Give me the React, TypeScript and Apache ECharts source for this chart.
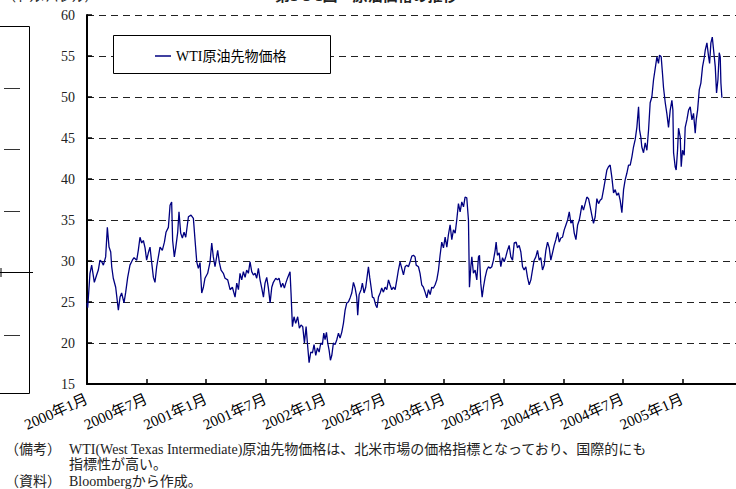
import React, { useEffect, useRef } from "react";
import * as echarts from "echarts";

// WTI crude oil futures price (USD/bbl). x = months elapsed since January 2000.
const wti2000: [number, number][] = [
  [0.0, 24.9], [0.07, 24.3], [0.3, 28.5], [0.47, 29.5], [0.74, 27.4], [0.97, 28.3], [1.14, 28.9], [1.31, 30.1],
  [1.48, 29.9], [1.65, 29.5], [1.88, 30.5], [2.05, 34.1], [2.22, 31.7], [2.39, 31.1], [2.49, 29.3], [2.65, 27.9],
  [2.89, 26.8], [3.16, 24.0], [3.33, 25.6], [3.49, 26.1], [3.73, 24.9], [3.9, 26.2], [4.1, 28.0], [4.33, 29.5],
  [4.57, 30.1], [4.74, 30.4], [5.01, 30.1], [5.17, 31.3], [5.34, 32.9], [5.51, 32.2], [5.68, 32.5], [5.85, 31.6],
  [6.01, 30.1], [6.18, 31.0], [6.35, 31.7], [6.52, 29.8], [6.69, 28.0], [6.85, 27.4], [7.02, 29.3], [7.19, 30.5],
  [7.36, 31.7], [7.59, 31.3], [7.8, 32.3], [7.96, 33.5], [8.2, 34.1], [8.37, 36.8], [8.53, 37.2], [8.63, 32.5],
  [8.8, 30.5], [8.94, 31.6], [9.14, 33.5], [9.27, 36.0], [9.44, 33.4], [9.61, 32.8], [9.78, 33.5], [9.95, 32.9],
  [10.22, 35.4], [10.48, 35.6], [10.72, 35.2], [10.89, 32.5], [11.06, 29.9], [11.22, 29.1], [11.39, 29.8],
  [11.56, 26.1], [11.73, 26.8], [11.89, 27.9],
];

const wti2001: [number, number][] = [
  [12.16, 28.5], [12.4, 29.9], [12.57, 32.2], [12.73, 30.5], [12.9, 29.3], [13.17, 31.3], [13.34, 29.8],
  [13.51, 28.9], [13.74, 28.5], [13.91, 27.9], [14.18, 27.7], [14.42, 26.5], [14.65, 26.8], [14.92, 25.6],
  [15.09, 27.3], [15.26, 26.5], [15.42, 28.5], [15.59, 27.7], [15.76, 28.7], [15.93, 28.0], [16.09, 28.9],
  [16.26, 28.5], [16.43, 29.9], [16.6, 28.7], [16.77, 28.3], [16.94, 28.5], [17.1, 27.9], [17.27, 29.1],
  [17.44, 27.7], [17.61, 26.7], [17.78, 25.6], [17.94, 27.3], [18.11, 28.0], [18.28, 26.7], [18.45, 24.9],
  [18.62, 26.8], [18.78, 27.4], [19.02, 27.9], [19.19, 27.7], [19.35, 27.9], [19.56, 26.8], [19.72, 27.3],
  [19.89, 26.7], [20.03, 27.3], [20.23, 28.0], [20.46, 28.7], [20.56, 26.1], [20.7, 22.0], [20.86, 23.2],
  [21.03, 22.4], [21.23, 23.2], [21.4, 21.8], [21.57, 22.2], [21.74, 22.0], [21.91, 20.0], [22.08, 22.0],
  [22.21, 20.0], [22.38, 17.6], [22.55, 18.9], [22.72, 18.8], [22.88, 19.8], [23.05, 18.5], [23.22, 19.4],
  [23.39, 18.9], [23.56, 20.0], [23.72, 19.8], [23.86, 21.2],
];

const wti2002: [number, number][] = [
  [23.99, 20.4], [24.13, 21.3], [24.26, 20.0], [24.4, 19.1], [24.53, 17.9], [24.67, 18.5], [24.83, 20.0],
  [25.0, 19.8], [25.17, 20.4], [25.34, 21.2], [25.5, 20.6], [25.67, 21.3], [25.84, 22.4], [26.01, 24.0],
  [26.18, 24.9], [26.34, 25.0], [26.51, 25.5], [26.68, 26.1], [26.85, 27.4], [27.02, 26.7], [27.18, 25.6],
  [27.28, 23.4], [27.42, 25.9], [27.62, 26.5], [27.75, 27.3], [27.92, 26.1], [28.09, 26.8], [28.22, 28.0],
  [28.36, 29.3], [28.49, 28.0], [28.63, 26.8], [28.76, 25.6], [28.9, 25.5], [29.1, 24.6], [29.23, 24.3],
  [29.37, 25.6], [29.54, 26.1], [29.7, 26.7], [29.87, 26.2], [30.04, 26.8], [30.21, 26.5], [30.38, 27.7],
  [30.54, 27.1], [30.71, 26.5], [30.88, 26.8], [31.05, 26.5], [31.22, 27.7], [31.38, 28.9], [31.55, 29.9],
  [31.72, 29.1], [31.89, 28.3], [32.06, 29.3], [32.22, 29.5], [32.39, 29.3], [32.56, 29.9], [32.73, 30.6],
  [32.9, 30.7], [33.06, 30.5], [33.17, 29.5], [33.4, 29.3], [33.56, 28.5], [33.73, 27.1], [33.9, 26.8],
  [34.07, 26.2], [34.24, 25.5], [34.41, 26.5], [34.58, 25.9], [34.74, 26.8], [34.91, 26.7], [35.08, 27.1],
  [35.25, 27.7], [35.42, 28.9], [35.58, 30.7], [35.75, 32.3], [35.92, 31.6],
];

const wti2003: [number, number][] = [
  [36.09, 32.9], [36.26, 31.7], [36.42, 33.2], [36.59, 34.4], [36.76, 32.6], [36.93, 33.8], [37.1, 33.4],
  [37.26, 35.0], [37.43, 37.0], [37.6, 36.0], [37.77, 37.2], [37.94, 36.6], [38.1, 37.8], [38.27, 37.7],
  [38.44, 35.0], [38.54, 26.8], [38.68, 29.3], [38.78, 30.5], [38.94, 28.5], [39.11, 28.9], [39.28, 27.7],
  [39.45, 30.5], [39.55, 30.7], [39.68, 27.3], [39.82, 25.6], [39.95, 26.8], [40.12, 28.0], [40.29, 28.9],
  [40.46, 29.3], [40.62, 29.1], [40.79, 29.3], [40.96, 30.1], [41.13, 31.3], [41.23, 32.3], [41.36, 30.7],
  [41.53, 31.0], [41.7, 29.3], [41.87, 30.4], [42.04, 29.9], [42.2, 30.5], [42.37, 31.3], [42.54, 31.9],
  [42.71, 30.5], [42.88, 30.1], [43.05, 32.2], [43.25, 32.3], [43.38, 31.6], [43.55, 31.9], [43.72, 31.1],
  [43.89, 29.3], [44.05, 28.9], [44.22, 29.3], [44.39, 28.0], [44.56, 27.1], [44.73, 27.7], [44.89, 28.9],
  [45.06, 30.1], [45.23, 30.5], [45.4, 31.3], [45.57, 30.1], [45.73, 30.4], [45.9, 28.9], [46.07, 29.5],
  [46.24, 31.3], [46.41, 32.3], [46.58, 31.6], [46.74, 30.1], [46.91, 31.0], [47.08, 31.9], [47.25, 32.6],
  [47.42, 33.5], [47.59, 32.3], [47.75, 32.8], [47.92, 32.9],
];

const wti2004: [number, number][] = [
  [48.09, 33.8], [48.26, 34.4], [48.43, 35.0], [48.6, 36.0], [48.76, 34.6], [48.93, 35.0], [49.1, 33.4],
  [49.27, 32.6], [49.44, 34.4], [49.61, 35.0], [49.7, 35.6], [49.87, 36.8], [50.03, 36.2], [50.2, 37.0],
  [50.37, 37.8], [50.54, 37.6], [50.71, 36.6], [50.87, 35.6], [51.04, 34.6], [51.21, 35.4], [51.38, 37.6],
  [51.55, 37.0], [51.71, 37.4], [51.88, 37.6], [52.05, 38.7], [52.22, 39.9], [52.39, 41.1], [52.55, 41.5],
  [52.72, 41.7], [52.89, 40.2], [53.06, 38.3], [53.23, 38.7], [53.39, 38.0], [53.56, 38.3], [53.73, 37.4],
  [53.9, 35.9], [54.07, 38.7], [54.23, 39.9], [54.4, 40.7], [54.57, 41.7], [54.74, 41.7], [54.91, 42.7],
  [55.07, 43.9], [55.24, 44.8], [55.41, 46.3], [55.58, 48.8], [55.68, 46.0], [55.81, 45.1], [55.91, 43.9],
  [56.08, 43.2], [56.25, 44.4], [56.42, 43.5], [56.59, 46.0], [56.75, 49.3], [56.92, 50.0], [57.09, 52.1],
  [57.26, 53.5], [57.43, 54.9], [57.59, 54.1], [57.69, 55.1], [57.86, 54.9], [57.99, 52.9], [58.1, 51.1],
  [58.27, 49.3], [58.43, 48.0], [58.6, 46.3], [58.77, 48.4], [58.94, 49.6], [59.04, 48.4], [59.11, 43.2],
  [59.27, 41.5], [59.37, 41.1], [59.51, 43.5], [59.61, 46.2], [59.78, 45.1], [59.88, 41.5],
];

const wti2005: [number, number][] = [
  [60.01, 43.5], [60.18, 42.9], [60.28, 46.3], [60.45, 47.2], [60.62, 48.4], [60.79, 48.8], [60.96, 47.2],
  [61.12, 48.0], [61.29, 45.6], [61.39, 47.2], [61.53, 48.4], [61.7, 50.9], [61.86, 51.7], [62.03, 53.7],
  [62.2, 54.8], [62.3, 55.7], [62.47, 56.6], [62.64, 54.9], [62.74, 54.1], [62.87, 56.6], [63.01, 57.3],
  [63.17, 55.4], [63.31, 53.7], [63.44, 50.5], [63.58, 52.1], [63.71, 55.4], [63.81, 54.9], [63.88, 51.7],
  [63.98, 49.9],
];

const xTickLabels = [
  "2000年1月", "2000年7月", "2001年1月", "2001年7月", "2002年1月", "2002年7月",
  "2003年1月", "2003年7月", "2004年1月", "2004年7月", "2005年1月",
];

const seriesName = "WTI原油先物価格";
const noteLine1 = "WTI(West Texas Intermediate)原油先物価格は、北米市場の価格指標となっており、国際的にも";
const noteLine2 = "指標性が高い。";
const sourceLine = "Bloombergから作成。";

const SERIF = "'Liberation Serif', 'Times New Roman', 'Noto Sans CJK JP', serif";

export default function App() {
  const ref = useRef<HTMLDivElement>(null);

  useEffect(() => {
    if (!ref.current) return;
    const chart = echarts.init(ref.current, undefined, { renderer: "svg" });
    const data = [...wti2000, ...wti2001, ...wti2002, ...wti2003, ...wti2004, ...wti2005];

    const txt = (text: string, x: number, y: number, size = 14, extra: any = {}) => ({
      type: "text",
      x,
      y,
      silent: true,
      style: {
        text,
        font: `${extra.bold ? "bold " : ""}${size}px ${SERIF}`,
        fill: extra.fill || "#222",
        verticalAlign: extra.va || "middle",
        align: "left",
      },
    });
    const ln = (x1: number, y1: number, x2: number, y2: number, color = "#000") => ({
      type: "line",
      silent: true,
      shape: { x1, y1, x2, y2 },
      style: { stroke: color, lineWidth: 1 },
    });

    chart.setOption({
      animation: false,
      backgroundColor: "#fff",
      grid: { left: 87, right: 0, top: 15, bottom: 105, containLabel: false },
      xAxis: {
        type: "value",
        min: 0,
        max: 65.4,
        interval: 6,
        axisLine: { onZero: false, lineStyle: { color: "#000", width: 2 } },
        axisTick: { inside: true, length: 5, lineStyle: { color: "#000", width: 1.5 } },
        splitLine: { show: false },
        axisLabel: {
          rotate: 24,
          margin: 14,
          fontSize: 15,
          color: "#000",
          fontFamily: SERIF,
          showMaxLabel: false,
          formatter: (v: number) => {
            const r = Math.round(v);
            if (Math.abs(v - r) > 1e-6 || r % 6 !== 0) return "";
            return xTickLabels[r / 6] || "";
          },
        },
      },
      yAxis: {
        type: "value",
        min: 15,
        max: 60,
        interval: 5,
        axisLine: { show: true, lineStyle: { color: "#000", width: 2 } },
        axisTick: { show: true, inside: true, length: 5, lineStyle: { color: "#000", width: 1.5 } },
        axisLabel: { fontSize: 14, color: "#222", margin: 12, fontFamily: SERIF },
        splitLine: { show: true, lineStyle: { color: "#222", type: [7, 5], width: 1 } },
      },
      legend: {
        left: 155,
        top: 49,
        padding: 0,
        icon: "rect",
        itemWidth: 16,
        itemHeight: 1.5,
        itemGap: 5,
        textStyle: { fontSize: 14, color: "#000", fontFamily: SERIF },
        data: [seriesName],
      },
      series: [
        {
          type: "line",
          name: seriesName,
          data,
          symbol: "none",
          lineStyle: { color: "#000080", width: 1.3 },
          itemStyle: { color: "#000080" },
          z: 2,
        },
      ],
      graphic: [
        {
          type: "rect",
          z: 3,
          silent: true,
          shape: { x: 113.5, y: 35.5, width: 217, height: 38 },
          style: { fill: "#fff", stroke: "#000", lineWidth: 1 },
        },
        // header texts, cut off by the top edge in the source picture
        txt("（ドル/バレル）", 3, 3, 13, { va: "bottom" }),
        txt("第1-1-1図　原油価格の推移", 275, 3, 15, { va: "bottom", bold: true }),
        // fragment of the neighbouring panel on the left
        ln(0, 26.5, 29.5, 26.5),
        ln(29.5, 26.5, 29.5, 393.5),
        ln(0, 393.5, 29.5, 393.5),
        ln(4, 88.5, 20, 88.5, "#333"),
        ln(4, 149.5, 20, 149.5, "#333"),
        ln(4, 211.5, 20, 211.5, "#333"),
        ln(4, 335.5, 20, 335.5, "#333"),
        ln(0, 272.5, 33, 272.5),
        ln(1, 268, 1, 277),
        ln(29.5, 268, 29.5, 277),
        // notes
        txt("（備考）", 5, 449),
        txt(noteLine1, 69, 449),
        txt(noteLine2, 69, 464),
        txt("（資料）", 5, 481),
        txt(sourceLine, 69, 481),
      ],
    });
    return () => chart.dispose();
  }, []);

  return (
    <div
      ref={ref}
      style={{ position: "fixed", left: 0, top: 0, width: 736, height: 489, background: "#fff" }}
    />
  );
}
